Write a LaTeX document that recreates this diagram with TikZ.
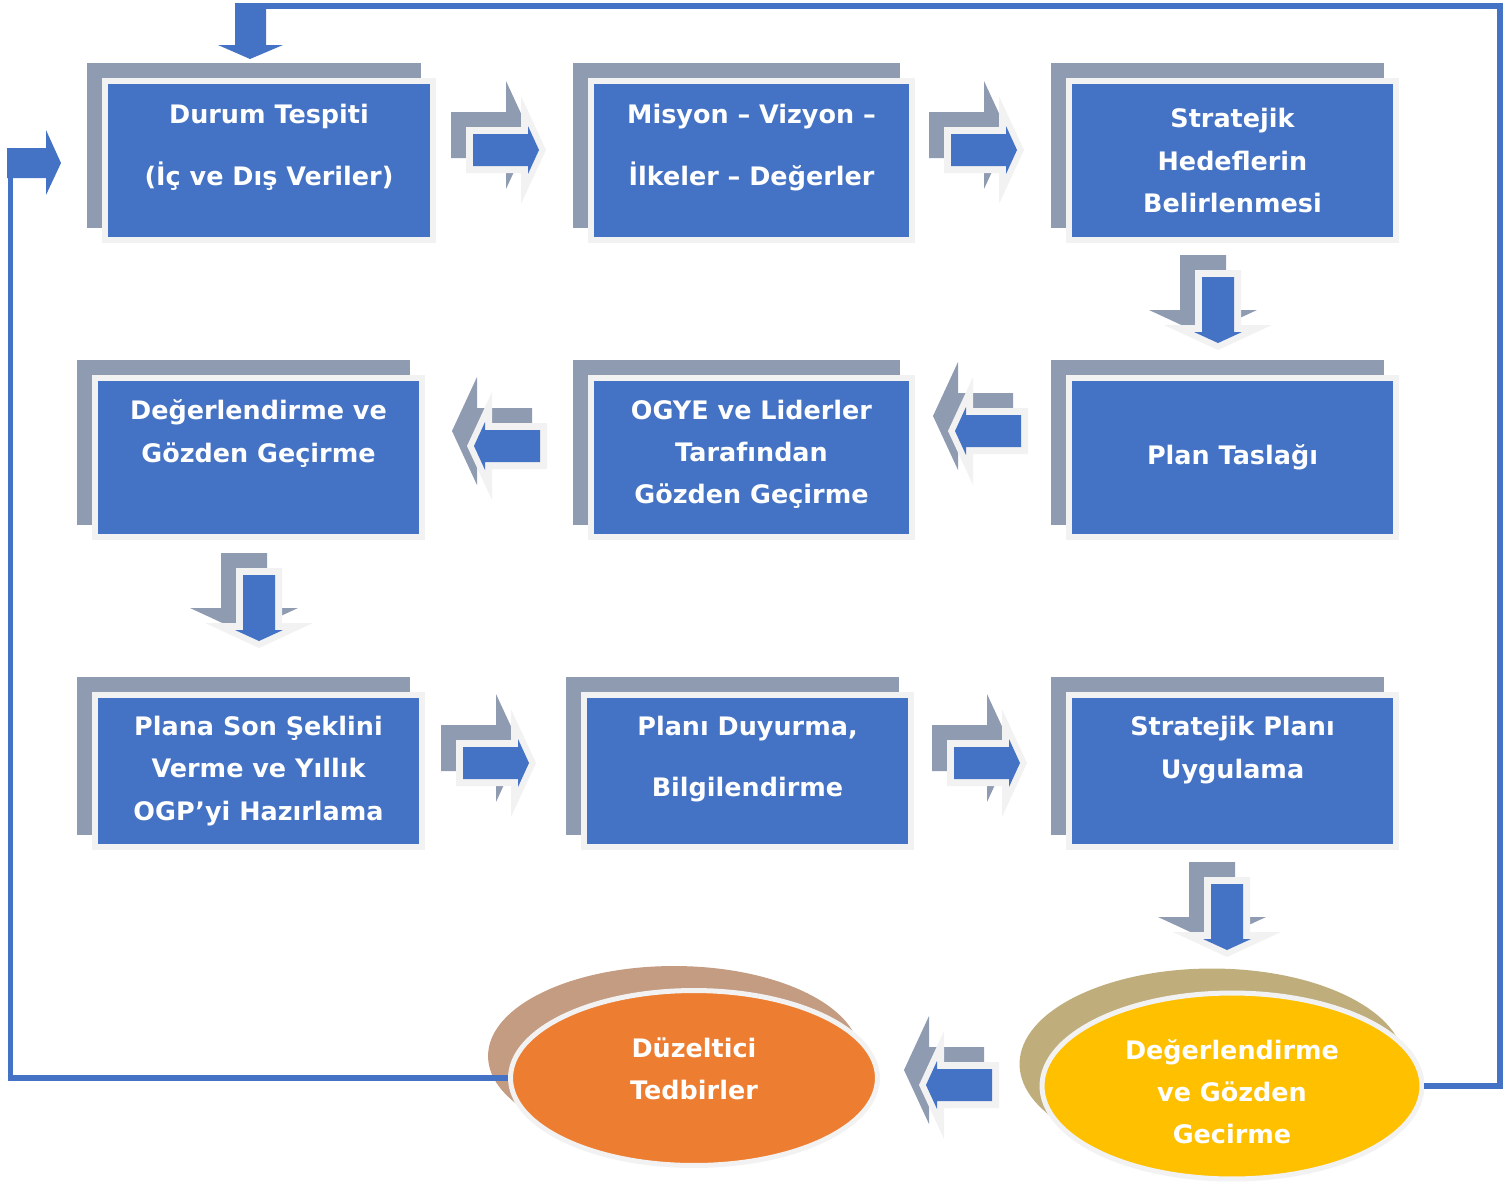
\documentclass[tikz,border=0pt]{standalone}
\usepackage{fontspec}
\setmainfont{DejaVu Sans}
\usetikzlibrary{calc,positioning,shapes.geometric,backgrounds}

\definecolor{boxblue}{HTML}{4472C4}
\definecolor{boxrim}{HTML}{F2F2F2}
\definecolor{boxshade}{HTML}{8F9BB1}
\definecolor{fixorange}{HTML}{ED7D31}
\definecolor{fixshade}{HTML}{C49C82}
\definecolor{revyellow}{HTML}{FFC000}
\definecolor{revshade}{HTML}{BFAE7C}

\tikzset{
  pics/flowshade/.style={code={
    \fill[boxshade] (-40,-23) -- (15,-23) -- (15,-54) -- (40,0) -- (15,54) -- (15,23) -- (-40,23) -- cycle;
  }},
  pics/flowarrow/.style={code={
    \fill[boxrim] (-40,-23) -- (15,-23) -- (15,-54) -- (40,0) -- (15,54) -- (15,23) -- (-40,23) -- cycle;
    \fill[boxblue] (-33,-16) -- (22,-16) -- (22,-24) -- (33,0) -- (22,24) -- (22,16) -- (-33,16) -- cycle;
  }}
}

\begin{document}
\begin{tikzpicture}
  [
    x=0.02cm, y=-0.02cm,
    stagebox/.style={
      rectangle,
      fill=boxblue,
      draw=boxrim,
      line width=0.12cm,
      minimum width=6.56cm,
      minimum height=3.18cm,
      inner sep=0pt
    },
    narrow/.style={
      minimum width=6.42cm
    },
    low/.style={
      minimum height=3.04cm
    },
    stagetext/.style={
      text=white,
      align=center,
      inner sep=0pt,
      font=\bfseries\fontsize{14.5}{24}\selectfont
    },
    widetext/.style={
      stagetext,
      font=\bfseries\fontsize{14.5}{35}\selectfont
    },
    fixstep/.style={
      ellipse,
      fill=fixorange,
      draw=boxrim,
      line width=0.1cm,
      minimum width=7.34cm,
      minimum height=3.5cm
    },
    revstep/.style={
      ellipse,
      fill=revyellow,
      draw=boxrim,
      line width=0.1cm,
      minimum width=7.6cm,
      minimum height=3.72cm
    },
    loopline/.style={
      draw=boxblue,
      line width=0.12cm
    }
  ]
\useasboundingbox (0,0) rectangle (1511,1183);

% Row 1
\node (A) [stagebox]         at (269,160.5)    {};
\node (B) [stagebox, narrow] at (751.5,160.5)  {};
\node (C) [stagebox]         at (1232.5,160.5) {};
\node (At) [widetext]  at ($(A.center)+(0,-13)$) {Durum Tespiti\\(İç ve Dış Veriler)};
\node (Bt) [widetext]  at ($(B.center)+(0,-13)$) {Misyon – Vizyon –\\İlkeler – Değerler};
\node (Ct) [stagetext] at (C.center) {Stratejik\\Hedeflerin\\Belirlenmesi};

% Row 2
\node (D) [stagebox]         at (258.5,457.5)  {};
\node (E) [stagebox, narrow] at (751.5,457.5)  {};
\node (F) [stagebox]         at (1232.5,457.5) {};
\node (Dt) [stagetext] at ($(D.center)+(0,-24)$) {Değerlendirme ve\\Gözden Geçirme};
\node (Et) [stagetext] at ($(E.center)+(0,-3)$)  {OGYE ve Liderler\\Tarafından\\Gözden Geçirme};
\node (Ft) [stagetext] at (F.center) {Plan Taslağı};

% Row 3
\node (G) [stagebox, low] at (258.5,771)  {};
\node (H) [stagebox, low] at (747.5,771)  {};
\node (I) [stagebox, low] at (1232.5,771) {};
\node (Gt) [stagetext] at (G.center) {Plana Son Şeklini\\Verme ve Yıllık\\OGP'yi Hazırlama};
\node (Ht) [widetext]  at ($(H.center)+(0,-12)$) {Planı Duyurma,\\Bilgilendirme};
\node (It) [stagetext] at ($(I.center)+(0,-21)$) {Stratejik Planı\\Uygulama};

% Review and correction
\node (O) [fixstep] at (694,1078)  {};
\node (Y) [revstep] at (1232,1086) {};
\node (Ot) [stagetext] at ($(O.center)+(0,-9)$) {Düzeltici\\Tedbirler};
\node (Yt) [stagetext] at ($(Y.center)+(0,6)$)  {Değerlendirme\\ve Gözden\\Gecirme};

\begin{scope}[on background layer]
  \foreach \n in {A,B,C,D,E,F,G,H,I}
    \fill[boxshade] ([shift={(-15,-15)}]\n.north west) rectangle ([shift={(-15,-15)}]\n.south east);
  \fill[fixshade] ($(O.center)+(-20,-22)$) ellipse [x radius=3.72cm, y radius=1.8cm];
  \fill[revshade] ($(Y.center)+(-20,-22)$) ellipse [x radius=3.85cm, y radius=1.91cm];
\end{scope}

% Block arrows between the steps
\coordinate (AB) at (506,150);
\coordinate (BC) at (984,150);
\coordinate (CF) at (1218,310);
\coordinate (FE) at (988,431);
\coordinate (ED) at (507,446);
\coordinate (DG) at (259,608);
\coordinate (GH) at (496,763);
\coordinate (HI) at (987,763);
\coordinate (IY) at (1227,917);
\coordinate (YO) at (959,1085);
\foreach \c/\a in {AB/0, BC/0, CF/-90, FE/180, ED/180, DG/-90, GH/0, HI/0, IY/-90, YO/180} {
  \pic[rotate=\a] at ($(\c)+(-15,-15)$) {flowshade};
  \pic[rotate=\a] at (\c) {flowarrow};
}

% Feedback loop
\coordinate (topjoin) at (250,6);
\coordinate (leftjoin) at (10.5,160);
\draw[loopline] (Y.east) -| (1500,6) -- (topjoin);
\draw[loopline] (O.west) -| (leftjoin);
\fill[boxblue] (235,3) -- (266,3) -- (266,45) -- (283,45) -- (250,59) -- (218,45) -- (235,45) -- cycle;
\fill[boxblue] (7,148) -- (46,148) -- (46,130) -- (61,163) -- (46,195) -- (46,178) -- (7,178) -- cycle;

\end{tikzpicture}
\end{document}
